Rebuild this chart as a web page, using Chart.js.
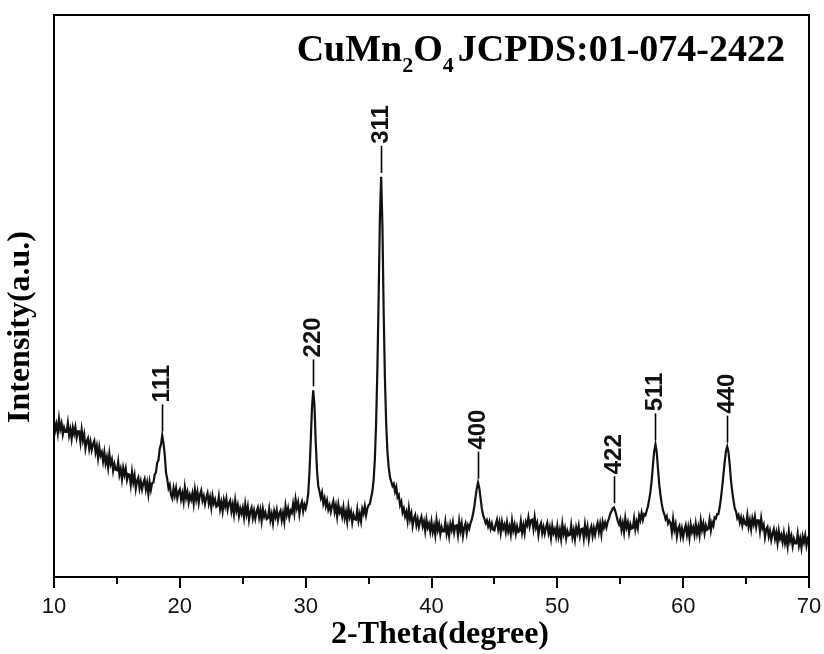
<!DOCTYPE html>
<html>
<head>
<meta charset="utf-8">
<script src="https://cdn.jsdelivr.net/npm/chart.js@4.4.1/dist/chart.umd.min.js"></script>
<style>
  html, body { margin: 0; padding: 0; background: #fff; }
  #wrap { width: 824px; height: 654px; }
</style>
</head>
<body>
<div id="wrap"><canvas id="xrd"></canvas></div>
<script>
// 2-theta scan: 10 to 70 degrees, 0.1 degree step
const thetaStart = 10;
const thetaStep = 0.1;

// intensity (a.u., 0 = bottom of frame, 1000 = top), one row per degree
const intensity = [
  280, 261, 272, 256, 281, 263, 273, 254, 266, 258,
  258, 274, 252, 263, 246, 266, 255, 267, 248, 259,
  259, 240, 262, 243, 254, 229, 242, 247, 228, 241,
  226, 236, 242, 222, 233, 212, 231, 216, 222, 206,
  222, 202, 213, 195, 219, 201, 209, 189, 201, 191,
  190, 205, 182, 192, 174, 194, 182, 193, 173, 183,
  182, 164, 187, 169, 181, 157, 171, 177, 158, 170,
  156, 167, 174, 156, 168, 148, 169, 155, 167, 168,
  182, 186, 203, 208, 228, 236, 252, 238, 218, 186,
  174, 158, 164, 146, 140, 158, 145, 158, 140, 151,
  156, 138, 149, 134, 159, 141, 151, 133, 146, 138,
  149, 131, 155, 138, 151, 132, 147, 154, 136, 144,
  130, 141, 149, 131, 142, 124, 144, 131, 138, 125,
  127, 143, 121, 133, 117, 137, 126, 139, 120, 131,
  136, 117, 129, 112, 136, 118, 128, 109, 122, 113,
  123, 106, 129, 112, 125, 102, 116, 123, 105, 118,
  104, 116, 123, 106, 119, 100, 121, 108, 115, 103,
  105, 121, 101, 112, 96, 117, 107, 119, 101, 113,
  118, 101, 114, 99, 126, 111, 122, 106, 118, 114,
  130, 114, 138, 123, 133, 112, 127, 134, 117, 129,
  122, 132, 148, 185, 240, 300, 332, 305, 240, 190,
  162, 152, 141, 150, 131, 140, 126, 136, 120, 128,
  116, 127, 135, 116, 127, 108, 129, 115, 121, 108,
  124, 105, 116, 99, 124, 107, 116, 97, 111, 103,
  102, 120, 100, 112, 99, 121, 113, 126, 110, 122,
  128, 130, 141, 152, 172, 210, 275, 370, 500, 640,
  712, 625, 470, 352, 272, 222, 195, 178, 170, 162,
  166, 152, 160, 142, 146, 128, 134, 115, 122, 108,
  116, 100, 122, 103, 113, 91, 104, 110, 92, 103,
  89, 100, 107, 90, 99, 82, 102, 88, 95, 81,
  98, 80, 91, 75, 101, 84, 94, 76, 89, 81,
  81, 98, 77, 89, 73, 94, 84, 97, 79, 91,
  92, 75, 99, 82, 95, 73, 88, 95, 78, 92,
  86, 96, 102, 112, 125, 142, 158, 168, 158, 140,
  122, 110, 104, 96, 101, 90, 98, 86, 95, 84,
  83, 94, 102, 85, 97, 79, 98, 86, 93, 80,
  97, 81, 90, 76, 100, 83, 93, 77, 90, 80,
  82, 99, 79, 92, 78, 98, 92, 106, 90, 101,
  102, 86, 106, 88, 96, 75, 90, 96, 78, 89,
  77, 88, 96, 78, 88, 70, 91, 78, 85, 72,
  90, 72, 84, 68, 94, 77, 87, 69, 82, 74,
  75, 92, 71, 83, 67, 88, 78, 91, 73, 85,
  86, 69, 93, 76, 89, 67, 83, 90, 73, 87,
  75, 88, 96, 80, 94, 76, 98, 88, 97, 88,
  98, 104, 112, 117, 122, 124, 118, 109, 100, 94,
  102, 84, 96, 80, 104, 88, 97, 79, 94, 86,
  87, 104, 85, 98, 87, 109, 101, 114, 102, 112,
  110, 118, 126, 138, 152, 172, 200, 224, 236, 222,
  192, 165, 145, 130, 118, 112, 103, 108, 95, 100,
  96, 80, 103, 84, 94, 72, 86, 91, 73, 86,
  71, 84, 92, 75, 88, 70, 93, 80, 88, 75,
  94, 77, 89, 74, 100, 84, 95, 78, 92, 84,
  86, 102, 83, 97, 91, 106, 104, 112, 112, 124,
  140, 160, 182, 205, 224, 232, 222, 200, 172, 152,
  136, 122, 117, 105, 110, 97, 106, 92, 104, 95,
  93, 110, 89, 101, 85, 104, 94, 107, 89, 101,
  101, 82, 104, 87, 93, 71, 85, 89, 72, 82,
  66, 77, 85, 68, 79, 61, 82, 68, 75, 62,
  78, 60, 71, 55, 81, 64, 73, 55, 68, 60,
  60, 77, 56, 68, 52, 72, 62, 74, 56, 68,
  64
];

// indexed reflections (hkl), their 2-theta and peak heights
const peakTheta = [18.6, 30.6, 36.0, 43.7, 54.5, 57.8, 63.5];
const peakHeight = [252, 332, 712, 168, 124, 236, 232];
const peakLabels = ['111', '220', '311', '400', '422', '511', '440'];

const xTicks = [10, 20, 30, 40, 50, 60, 70];

const points = intensity.map((v, i) => ({ x: +(thetaStart + i * thetaStep).toFixed(1), y: v }));

const serifBold = '"Liberation Serif", "Times New Roman", serif';
const sans = '"Liberation Sans", Arial, sans-serif';

// frame, tick marks, peak markers and text
const decor = {
    id: 'decor',
    afterDatasetsDraw(chart) {
        const { ctx, chartArea: a, scales: { x, y } } = chart;
        ctx.save();

        ctx.strokeStyle = '#000';
        ctx.lineWidth = 2;
        ctx.strokeRect(a.left, a.top, a.right - a.left, a.bottom - a.top);

        // major / minor ticks below the axis
        x.ticks.forEach(t => {
            const px = Math.round(x.getPixelForValue(t.value));
            const len = xTicks.includes(t.value) ? 11 : 7;
            ctx.beginPath();
            ctx.moveTo(px, a.bottom);
            ctx.lineTo(px, a.bottom + len);
            ctx.stroke();
        });

        // hkl markers
        ctx.lineWidth = 1.6;
        ctx.fillStyle = '#111';
        ctx.font = 'bold 24px ' + sans;
        peakTheta.forEach((t, i) => {
            const px = Math.round(x.getPixelForValue(t)) + 0.5;
            const py = y.getPixelForValue(peakHeight[i]);
            ctx.beginPath();
            ctx.moveTo(px, py - 4);
            ctx.lineTo(px, py - 31);
            ctx.stroke();
            ctx.save();
            ctx.translate(px - 1, py - 33);
            ctx.rotate(-Math.PI / 2);
            ctx.textAlign = 'left';
            ctx.textBaseline = 'middle';
            ctx.fillText(peakLabels[i], 0, 1);
            ctx.restore();
        });

        // phase title with subscripts
        const parts = [['CuMn', 0, 0], ['2', 1, 0], ['O', 0, 0], ['4', 1, 4], ['JCPDS:01-074-2422', 0, 0]];
        const mainFont = 'bold 38px ' + serifBold;
        const subFont = 'bold 22px ' + serifBold;
        let w = 0;
        parts.forEach(p => { ctx.font = p[1] ? subFont : mainFont; w += ctx.measureText(p[0]).width + p[2]; });
        let tx = a.right - 24 - w;
        const ty = a.top + 46;
        ctx.fillStyle = '#000';
        ctx.textAlign = 'left';
        ctx.textBaseline = 'alphabetic';
        parts.forEach(p => {
            ctx.font = p[1] ? subFont : mainFont;
            ctx.fillText(p[0], tx, p[1] ? ty + 11 : ty);
            tx += ctx.measureText(p[0]).width + p[2];
        });

        // axis titles
        ctx.font = 'bold 32px ' + serifBold;
        ctx.textAlign = 'center';
        ctx.fillText('2-Theta(degree)', 440, 643);
        ctx.save();
        ctx.translate(29, 327);
        ctx.rotate(-Math.PI / 2);
        ctx.fillText('Intensity(a.u.)', 0, 0);
        ctx.restore();

        ctx.restore();
    }
};

const ctx = document.getElementById('xrd').getContext('2d');
const xrdChart = new Chart(ctx, {
    type: 'line',
    data: {
        datasets: [{
            data: points,
            borderColor: '#111',
            borderWidth: 2.2,
            pointRadius: 0,
            fill: false,
            tension: 0
        }]
    },
    options: {
        responsive: true,
        maintainAspectRatio: false,
        animation: false,
        layout: { padding: { left: 54, right: 15, top: 15, bottom: 0 } },
        plugins: { legend: { display: false }, tooltip: { enabled: false } },
        scales: {
            x: {
                type: 'linear',
                min: 10,
                max: 70,
                border: { display: false },
                grid: { display: true, drawOnChartArea: false, drawTicks: true, tickLength: 15, color: 'rgba(0,0,0,0)' },
                ticks: {
                    stepSize: 5,
                    autoSkip: false,
                    maxRotation: 0,
                    padding: 2,
                    color: '#111',
                    font: { family: sans, size: 22 },
                    callback: v => xTicks.includes(v) ? String(v) : ''
                },
                afterFit: scale => { scale.height = 77; }
            },
            y: {
                display: false,
                min: 0,
                max: 1000
            }
        }
    },
    plugins: [decor]
});
</script>
</body>
</html>
